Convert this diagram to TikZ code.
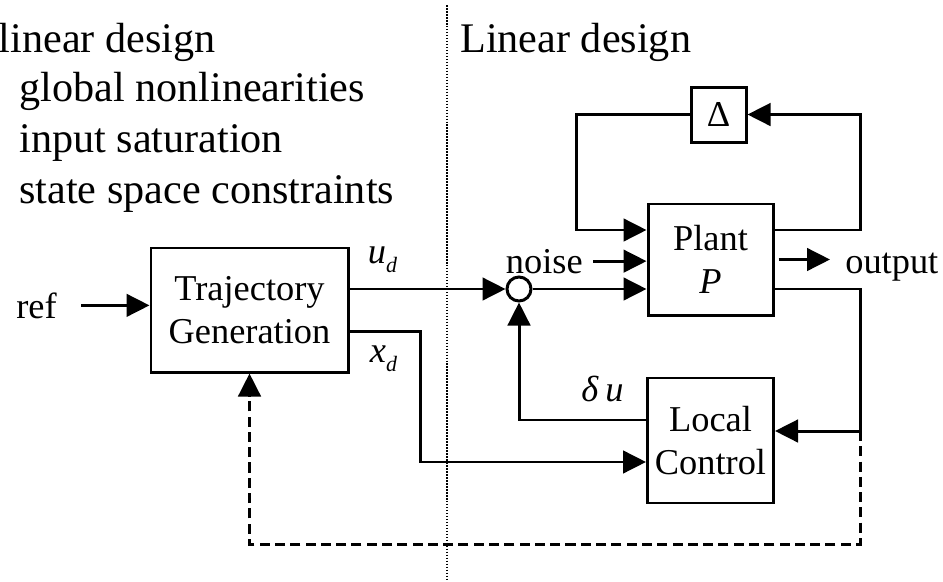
\documentclass[tikz,border=0pt]{standalone}
\usepackage{fontspec}
\setmainfont{Liberation Serif}
\usepackage{tikz}
\usetikzlibrary{positioning, arrows.meta, calc}

\newcommand\vsub[2]{\textit{#1}\raisebox{-0.18cm}{\fontsize{12.5}{12.5}\selectfont\textit{#2}}}

\begin{document}
\begin{tikzpicture}[
  font=\fontsize{20.7}{24.7}\selectfont,
  block/.style={draw, line width=1.7pt, align=center, inner sep=0pt},
  sum/.style={circle, draw, line width=1.7pt, minimum size=0.48cm, inner sep=0pt},
  lbl/.style={inner sep=0pt},
  hdr/.style={inner sep=0pt, font=\fontsize{24}{28}\selectfont},
  arrow/.style={-{Triangle[length=0.46cm, width=0.45cm]}, line width=1.7pt},
]
  \useasboundingbox (0,0) rectangle (18.86,11.62);

  \node[hdr, anchor=base west] (nonlin) at (-0.03,10.58) {linear design};
  \node[hdr, anchor=base west] (glob)   at (0.38,9.6)    {global nonlinearities};
  \node[hdr, anchor=base west] (sat)    at (0.38,8.58)   {input saturation};
  \node[hdr, anchor=base west] (cons)   at (0.38,7.56)   {state space constraints};
  \node[hdr, anchor=base west] (lin)    at (9.2,10.58)   {Linear design};

  \draw[line width=1.3pt, dash pattern=on 0.9pt off 0.8pt] (8.94,11.52) -- (8.94,0.04);

  \node[block, minimum width=3.94cm, minimum height=2.48cm] (traj) at (4.99,5.42) {Trajectory\\Generation};
  \node[block, minimum width=2.5cm, minimum height=2.22cm] (plant) at (14.21,6.43) {Plant\\\textit{P}};
  \node[block, minimum width=2.52cm, minimum height=2.5cm, below=1.2cm of plant] (lc) {Local\\Control};
  \node[block, minimum size=1.1cm, above=1.18cm of plant, xshift=0.16cm] (delta) {Δ};
  \node[sum] (sum) at (10.38,5.84) {};

  \node[lbl, anchor=base east] (ref) at (1.14,5.26) {ref};
  \node[lbl, anchor=base east] (noise) at (11.66,6.16) {noise};
  \node[lbl, anchor=base west] (output) at (16.9,6.16) {output};

  \coordinate (outtip) at (16.6,0);
  \coordinate (rail) at (17.2,3.0);
  \coordinate (lrail) at (11.52,0);
  \coordinate (low) at (17.2,0.74);

  \draw[arrow] ([xshift=0.48cm]ref.east) -- (ref.east -| traj.west);
  \draw[arrow] (sum -| traj.east) -- node[lbl, at start, anchor=south west, xshift=0.34cm, yshift=0.3cm]{\vsub{u}{d}} (sum);
  \draw[arrow] ([yshift=-0.42cm]traj.east) -- node[lbl, at start, anchor=north west, xshift=0.38cm, yshift=-0.26cm]{\vsub{x}{d}} ++(1.42,0) |- ([yshift=-0.43cm]lc.west);
  \draw[arrow] (sum) -- (sum -| plant.west);
  \draw[arrow] ([xshift=0.2cm]noise.east) -- (noise.east -| plant.west);
  \draw[arrow] ([xshift=0.08cm]plant.east) -- (plant.east -| outtip);
  \draw[arrow] ([yshift=0.59cm]plant.east) -| (rail |- delta) -- (delta);
  \draw[arrow] (delta.west) -- (delta.west -| lrail) |- ([yshift=0.59cm]plant.west);
  \draw[arrow] ([yshift=-0.59cm]plant.east) -| (rail) -- (rail -| lc.east);
  \draw[arrow] ([yshift=0.41cm]lc.west) -| node[lbl, at start, anchor=base east, xshift=-0.42cm, yshift=0.36cm]{\textit{δ}\hspace{0.18em}\textit{u}} (sum);
  \draw[arrow, dash pattern=on 5.7pt off 3pt] (rail) -- (low) -| (traj.south);
\end{tikzpicture}
\end{document}
